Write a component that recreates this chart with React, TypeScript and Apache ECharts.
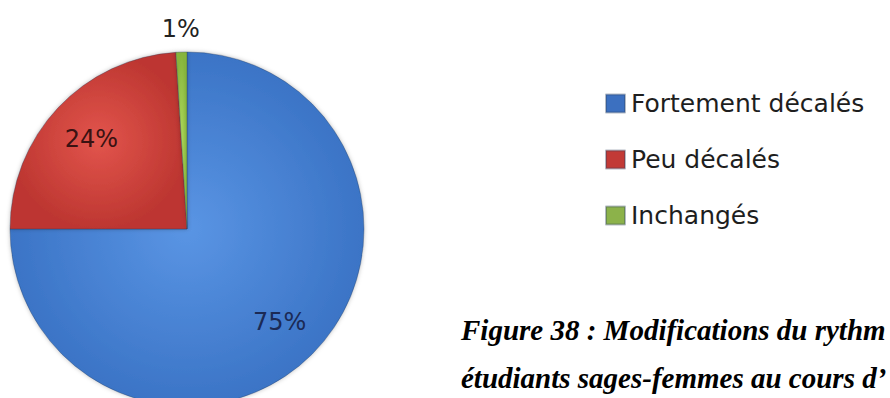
import React, { useEffect, useRef } from "react";
import * as echarts from "echarts";

const categories = ["Fortement décalés", "Peu décalés", "Inchangés"];
const values = [75, 24, 1];
const captionLines = [
  "Figure 38 : Modifications du rythm",
  "étudiants sages-femmes au cours d’",
];

const colors = [
  ["#5a95e4", "#3b74c6"],
  ["#e2554c", "#bd3631"],
  ["#acd85a", "#86b43c"],
];
const legendColors = ["#3c70c0", "#c23a36", "#8cb24a"];
const labelColors = ["#1b2a55", "#3a1212", "#222222"];

export default function App() {
  const ref = useRef<HTMLDivElement>(null);
  useEffect(() => {
    if (!ref.current) return;
    const chart = echarts.init(ref.current, undefined, { renderer: "svg" });
    const grad = (i: number) =>
      new echarts.graphic.RadialGradient(0.5, 0.5, 0.5, [
        { offset: 0, color: colors[i][0] },
        { offset: 1, color: colors[i][1] },
      ]);
    const mainData = categories.map((name, i) => ({
      name,
      value: values[i],
      itemStyle: { color: grad(i) },
    }));
    const labelData = (show: boolean[]) =>
      categories.map((name, i) => ({
        name,
        value: values[i],
        label: {
          show: show[i],
          position: "inside",
          color: labelColors[i],
          fontFamily: "DejaVu Sans",
          fontSize: 24,
          formatter: "{d}%",
        },
      }));
    const center = [187, 229];
    chart.setOption({
      animation: false,
      legend: {
        orient: "vertical",
        left: 600,
        top: 86,
        icon: "rect",
        itemWidth: 19,
        itemHeight: 18,
        itemGap: 31,
        data: categories.map((name, i) => ({
          name,
          itemStyle: { color: legendColors[i] },
        })),
        textStyle: {
          fontFamily: "DejaVu Sans",
          fontSize: 25,
          color: "#1e1e1e",
          padding: [0, 0, 0, 1],
        },
      },
      series: [
        {
          type: "pie",
          center,
          radius: 177,
          startAngle: 90,
          clockwise: true,
          data: mainData,
          label: { show: false },
          labelLine: { show: false },
          itemStyle: {
            borderColor: "rgba(40,60,90,0.35)",
            borderWidth: 1,
            shadowColor: "rgba(0,0,0,0.25)",
            shadowBlur: 4,
          },
          emphasis: { disabled: true },
        },
        {
          type: "pie",
          center,
          radius: 256,
          startAngle: 90,
          clockwise: true,
          silent: true,
          data: labelData([true, true, false]),
          itemStyle: { color: "rgba(0,0,0,0)" },
          labelLine: { show: false },
          emphasis: { disabled: true },
        },
        {
          type: "pie",
          center,
          radius: 394,
          startAngle: 90,
          clockwise: true,
          silent: true,
          data: labelData([false, false, true]),
          itemStyle: { color: "rgba(0,0,0,0)" },
          labelLine: { show: false },
          emphasis: { disabled: true },
        },
      ],
      graphic: captionLines.map((t, i) => ({
        type: "text",
        left: 461,
        top: 315 + i * 48,
        style: {
          text: t,
          fontFamily: "Liberation Serif",
          fontWeight: "bold",
          fontStyle: "italic",
          fontSize: 29,
          fill: "#000000",
        },
      })),
    });
    return () => chart.dispose();
  }, []);
  return (
    <div
      ref={ref}
      style={{ position: "fixed", left: 0, top: 0, width: 890, height: 398, background: "#fff" }}
    />
  );
}
